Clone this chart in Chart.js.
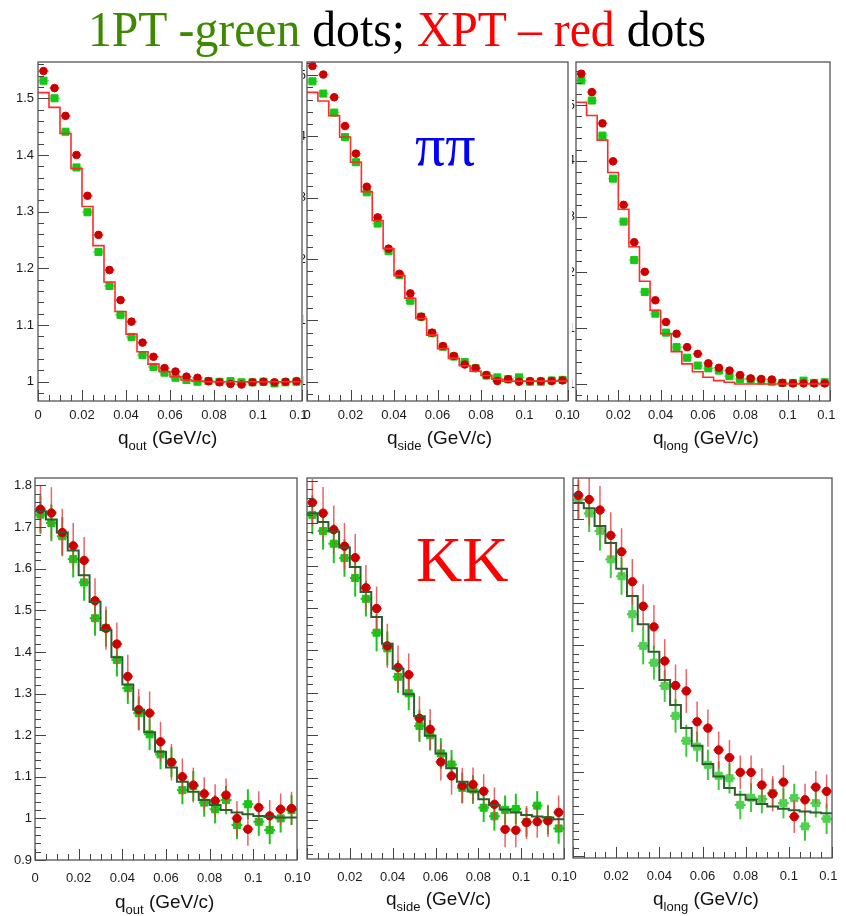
<!DOCTYPE html>
<html>
<head>
<meta charset="utf-8">
<script src="https://cdn.jsdelivr.net/npm/chart.js@4.4.0/dist/chart.umd.min.js"></script>
<style>
  html, body { margin: 0; padding: 0; background: #fff; }
  #page { position: relative; width: 846px; height: 916px; overflow: hidden; font-family: "Liberation Sans", Arial, sans-serif; }
  #page canvas { position: absolute; }
  .title { position: absolute; left: 88px; top: 4px; font: 51px/51px "Liberation Serif", "Times New Roman", serif; white-space: nowrap; transform: scaleX(0.935); transform-origin: 0 0; color: #000; }
  .axis { position: absolute; font-size: 19px; line-height: 19px; white-space: nowrap; color: #111; }
  .axis span { font-size: 13px; position: relative; top: 6px; }
  .tag { position: absolute; font-family: "Liberation Serif", "Times New Roman", serif; white-space: nowrap; }
</style>
</head>
<body>
<div id="page">
  <div class="title"><span style="color:#3d8a00">1PT -green</span> dots; <span style="color:#ff0000">XPT – red</span> dots</div>
</div>
<script>
// bin centres and edges in q (GeV/c), 24 bins of 5 MeV
const qBins = [0.0025, 0.0075, 0.0125, 0.0175, 0.0225, 0.0275, 0.0325, 0.0375, 0.0425, 0.0475, 0.0525, 0.0575,
               0.0625, 0.0675, 0.0725, 0.0775, 0.0825, 0.0875, 0.0925, 0.0975, 0.1025, 0.1075, 0.1125, 0.1175];
const binEdges = [0, 0.005, 0.01, 0.015, 0.02, 0.025, 0.03, 0.035, 0.04, 0.045, 0.05, 0.055, 0.06,
                  0.065, 0.07, 0.075, 0.08, 0.085, 0.09, 0.095, 0.1, 0.105, 0.11, 0.115, 0.12];

// pi-pi correlation functions
const piOut1pt = [1.531, 1.500, 1.441, 1.378, 1.299, 1.229, 1.169, 1.118, 1.079, 1.047, 1.026, 1.016,
                  1.007, 1.003, 1.000, 1.001, 1.000, 1.001, 0.999, 0.999, 1.000, 0.997, 0.999, 1.000];
const piOutXpt = [1.548, 1.518, 1.469, 1.400, 1.328, 1.259, 1.197, 1.144, 1.106, 1.069, 1.044, 1.024,
                  1.018, 1.009, 1.007, 1.001, 0.999, 0.996, 0.995, 0.999, 1.000, 0.999, 1.000, 1.001];
const piOutFit = [1.510, 1.484, 1.438, 1.376, 1.309, 1.240, 1.176, 1.124, 1.084, 1.053, 1.031, 1.018,
                  1.009, 1.003, 1.001, 1.000, 1.000, 1.000, 1.000, 1.000, 1.000, 1.000, 1.000, 1.000];

const piSide1pt = [1.490, 1.470, 1.439, 1.399, 1.358, 1.309, 1.258, 1.213, 1.174, 1.132, 1.106, 1.079,
                   1.057, 1.041, 1.032, 1.022, 1.010, 1.007, 1.004, 1.007, 1.000, 1.000, 1.002, 1.003];
const piSideXpt = [1.515, 1.501, 1.464, 1.417, 1.372, 1.318, 1.268, 1.217, 1.176, 1.144, 1.106, 1.080,
                   1.058, 1.042, 1.028, 1.022, 1.011, 1.001, 1.004, 1.000, 1.001, 1.001, 1.001, 1.002];
const piSideFit = [1.472, 1.458, 1.434, 1.399, 1.358, 1.310, 1.263, 1.217, 1.173, 1.136, 1.103, 1.076,
                   1.054, 1.038, 1.026, 1.017, 1.010, 1.004, 1.001, 1.001, 1.001, 1.001, 1.001, 1.001];

const piLong1pt = [1.544, 1.508, 1.445, 1.368, 1.291, 1.222, 1.165, 1.126, 1.092, 1.066, 1.047, 1.033,
                   1.028, 1.024, 1.014, 1.009, 1.008, 1.006, 1.004, 1.002, 1.002, 1.006, 1.002, 1.003];
const piLongXpt = [1.556, 1.523, 1.467, 1.399, 1.321, 1.254, 1.201, 1.150, 1.111, 1.090, 1.066, 1.054,
                   1.037, 1.029, 1.024, 1.016, 1.010, 1.009, 1.008, 1.002, 1.001, 1.001, 1.001, 1.001];
const piLongFit = [1.505, 1.481, 1.437, 1.379, 1.313, 1.246, 1.184, 1.132, 1.090, 1.058, 1.036, 1.022,
                   1.012, 1.006, 1.003, 1.000, 1.000, 1.000, 1.000, 1.000, 1.000, 1.000, 1.000, 1.000];

const piErr1pt = [0.003, 0.003, 0.003, 0.003, 0.003, 0.002, 0.002, 0.002, 0.002, 0.002, 0.002, 0.002,
                  0.002, 0.002, 0.002, 0.002, 0.002, 0.002, 0.002, 0.002, 0.002, 0.002, 0.002, 0.002];
const piErrXpt = [0.004, 0.004, 0.003, 0.003, 0.003, 0.003, 0.003, 0.002, 0.002, 0.002, 0.002, 0.002,
                  0.002, 0.002, 0.002, 0.002, 0.002, 0.002, 0.002, 0.002, 0.002, 0.002, 0.002, 0.002];

// K-K correlation functions
const kkOut1pt = [1.730, 1.710, 1.678, 1.623, 1.567, 1.481, 1.457, 1.381, 1.313, 1.253, 1.202, 1.154,
                  1.135, 1.068, 1.078, 1.038, 1.022, 1.044, 0.984, 1.034, 0.992, 0.972, 1.000, 1.020];
const kkOutXpt = [1.743, 1.734, 1.687, 1.655, 1.620, 1.523, 1.457, 1.419, 1.341, 1.261, 1.253, 1.184,
                  1.135, 1.100, 1.080, 1.059, 1.042, 1.056, 1.000, 0.974, 1.026, 1.006, 1.022, 1.024];
const kkOutFit = [1.738, 1.718, 1.687, 1.644, 1.584, 1.520, 1.453, 1.387, 1.322, 1.261, 1.207, 1.160,
                  1.122, 1.088, 1.064, 1.044, 1.032, 1.020, 1.014, 1.010, 1.006, 1.004, 1.002, 1.002];

const kkSide1pt = [1.720, 1.682, 1.652, 1.618, 1.571, 1.522, 1.442, 1.405, 1.338, 1.299, 1.222, 1.200,
                   1.157, 1.131, 1.076, 1.072, 1.029, 1.009, 1.024, 1.026, 0.995, 1.034, 1.000, 0.980];
const kkSideXpt = [1.749, 1.724, 1.685, 1.646, 1.619, 1.548, 1.499, 1.411, 1.360, 1.343, 1.240, 1.214,
                   1.137, 1.104, 1.081, 1.084, 1.068, 1.037, 0.978, 0.976, 0.994, 0.996, 0.998, 1.018];
const kkSideFit = [1.724, 1.703, 1.681, 1.643, 1.597, 1.538, 1.479, 1.416, 1.357, 1.297, 1.245, 1.199,
                   1.157, 1.122, 1.090, 1.067, 1.049, 1.035, 1.025, 1.018, 1.012, 1.008, 1.006, 1.002];

const kkLong1pt = [1.746, 1.713, 1.671, 1.604, 1.564, 1.474, 1.399, 1.359, 1.304, 1.233, 1.174, 1.160,
                   1.117, 1.091, 1.085, 1.022, 1.039, 1.036, 1.050, 1.026, 1.038, 0.971, 1.026, 0.989];
const kkLongXpt = [1.756, 1.746, 1.721, 1.661, 1.622, 1.551, 1.493, 1.444, 1.363, 1.305, 1.292, 1.219,
                   1.204, 1.152, 1.134, 1.099, 1.099, 1.069, 1.048, 1.076, 0.994, 1.034, 1.064, 1.054];
const kkLongFit = [1.738, 1.725, 1.683, 1.643, 1.582, 1.517, 1.450, 1.385, 1.318, 1.259, 1.204, 1.162,
                   1.119, 1.089, 1.062, 1.046, 1.034, 1.024, 1.018, 1.013, 1.009, 1.006, 1.004, 1.002];

const kkErr1pt = [0.046, 0.044, 0.046, 0.044, 0.044, 0.042, 0.044, 0.040, 0.038, 0.040, 0.038, 0.036,
                  0.036, 0.034, 0.036, 0.034, 0.034, 0.034, 0.034, 0.036, 0.034, 0.034, 0.034, 0.036];
const kkErrXpt = [0.056, 0.062, 0.057, 0.055, 0.056, 0.054, 0.052, 0.052, 0.052, 0.050, 0.052, 0.048,
                  0.044, 0.044, 0.042, 0.040, 0.040, 0.040, 0.042, 0.040, 0.039, 0.038, 0.038, 0.040];

// canvas placement: [left, top, width, height]; chart area comes from the axis sizes
const panels = [
  { box: [0, 50, 308, 379],   yW: 38, padTop: 12, padRight: 3, xH: 28, xPad: 7,  yPad: 4, yLabels: true,
    yMin: 0.966, yMax: 1.564, g: piOut1pt, r: piOutXpt, fit: piOutFit, eg: piErr1pt, er: piErrXpt, pi: true },
  { box: [301, 50, 273, 379], yW: 4,  padTop: 12, padRight: 3, xH: 28, xPad: 7,  yPad: 1, yLabels: true,
    yMin: 0.9685, yMax: 1.5215, g: piSide1pt, r: piSideXpt, fit: piSideFit, eg: piErr1pt, er: piErrXpt, pi: true },
  { box: [570, 50, 266, 379], yW: 4,  padTop: 12, padRight: 3, xH: 28, xPad: 7,  yPad: 1, yLabels: true,
    yMin: 0.9695, yMax: 1.577, g: piLong1pt, r: piLongXpt, fit: piLongFit, eg: piErr1pt, er: piErrXpt, pi: true },
  { box: [0, 470, 303, 446],  yW: 35, padTop: 8, padRight: 2, xH: 56, xPad: 11, yPad: 3, yLabels: true,
    yMin: 0.9, yMax: 1.818, g: kkOut1pt, r: kkOutXpt, fit: kkOutFit, eg: kkErr1pt, er: kkErrXpt },
  { box: [301, 470, 269, 446], yW: 2, padTop: 8, padRight: 2, xH: 57, xPad: 11, yPad: 3, yLabels: false,
    yMin: 0.908, yMax: 1.807, g: kkSide1pt, r: kkSideXpt, fit: kkSideFit, eg: kkErr1pt, er: kkErrXpt },
  { box: [567, 470, 271, 446], yW: 3, padTop: 8, padRight: 3, xH: 58, xPad: 11, yPad: 3, yLabels: false,
    yMin: 0.896, yMax: 1.797, g: kkLong1pt, r: kkLongXpt, fit: kkLongFit, eg: kkErr1pt, er: kkErrXpt, pale: true }
];

// ROOT-like error bars, drawn just under each marker set
const errorBars = {
  id: 'errorBars',
  beforeDatasetDraw(chart, args) {
    const ds = chart.data.datasets[args.index];
    if (!ds.errY) return;
    const { ctx, chartArea: a, scales: { x, y } } = chart;
    ctx.save();
    ctx.beginPath();
    ctx.rect(a.left, a.top, a.right - a.left, a.bottom - a.top);
    ctx.clip();
    ds.data.forEach((pt, i) => {
      const px = x.getPixelForValue(pt.x);
      const py = y.getPixelForValue(pt.y);
      ctx.lineWidth = ds.errWidth;
      ctx.strokeStyle = ds.errColorY;
      ctx.beginPath();
      ctx.moveTo(px, y.getPixelForValue(pt.y - ds.errY[i]));
      ctx.lineTo(px, y.getPixelForValue(pt.y + ds.errY[i]));
      ctx.stroke();
      ctx.strokeStyle = ds.errColorX;
      ctx.beginPath();
      ctx.moveTo(x.getPixelForValue(pt.x - 0.0025), py);
      ctx.lineTo(x.getPixelForValue(pt.x + 0.0025), py);
      ctx.stroke();
    });
    ctx.restore();
  }
};

// frame plus tick marks pointing into the pad
const frameTicks = {
  id: 'frameTicks',
  afterDraw(chart) {
    const { ctx, chartArea: a, scales: { x, y } } = chart;
    ctx.save();
    ctx.strokeStyle = '#444';
    ctx.lineWidth = 1;
    ctx.beginPath();
    for (let i = 0; i <= 24; i++) {
      const px = Math.round(x.getPixelForValue(i * 0.005)) + 0.5;
      const len = i % 4 === 0 ? 11 : 6;
      ctx.moveTo(px, a.bottom);
      ctx.lineTo(px, a.bottom - len);
    }
    for (let k = Math.ceil(y.min / 0.02 - 1e-6); k * 0.02 <= y.max + 1e-6; k++) {
      const py = Math.round(y.getPixelForValue(k * 0.02)) + 0.5;
      const len = k % 5 === 0 ? 11 : 6;
      ctx.moveTo(a.left, py);
      ctx.lineTo(a.left + len, py);
    }
    ctx.stroke();
    ctx.strokeStyle = '#555';
    ctx.lineWidth = 1.3;
    ctx.strokeRect(a.left, a.top, a.right - a.left, a.bottom - a.top);
    ctx.restore();
  }
};

// ROOT style labels: 1, 1.1, 0.02, 0.1 ...
const shortLabel = v => String(Math.round(v * 1000) / 1000);

function histPoints(levels) {
  const pts = levels.map((v, i) => ({ x: binEdges[i], y: v }));
  pts.push({ x: binEdges[levels.length], y: levels[levels.length - 1] });
  return pts;
}
function markers(vals) {
  return vals.map((v, i) => ({ x: qBins[i], y: v }));
}

Chart.defaults.font.family = '"Liberation Sans", Arial, sans-serif';
Chart.defaults.font.size = 13;
Chart.defaults.color = '#1a1a1a';

const page = document.getElementById('page');

panels.forEach(p => {
  const cv = document.createElement('canvas');
  cv.width = p.box[2];
  cv.height = p.box[3];
  cv.style.left = p.box[0] + 'px';
  cv.style.top = p.box[1] + 'px';
  cv.style.width = p.box[2] + 'px';
  cv.style.height = p.box[3] + 'px';
  page.appendChild(cv);

  const greenFill = p.pale ? '#4fd24f' : '#14c814';
  const greenBar = p.pale ? '#3ccb3c' : '#1ec41e';

  new Chart(cv, {
    type: 'scatter',
    data: {
      datasets: [
        {
          data: histPoints(p.fit),
          showLine: true,
          stepped: 'before',
          borderColor: p.pi ? '#ff2b2b' : '#2f5d2f',
          borderWidth: p.pi ? 1.6 : 2,
          pointRadius: 0,
          fill: false
        },
        {
          data: markers(p.r),
          pointStyle: 'circle',
          pointRadius: p.pi ? 3.8 : 4.2,
          backgroundColor: '#cc0000',
          borderColor: '#cc0000',
          borderWidth: 1,
          clip: false,
          errY: p.er,
          errWidth: 1.5,
          errColorY: 'rgba(230, 60, 60, 0.8)',
          errColorX: p.pi ? 'rgba(235, 100, 100, 0.6)' : 'rgba(230, 60, 60, 0.8)'
        },
        {
          data: markers(p.g),
          pointStyle: 'rect',
          pointRadius: 5,
          backgroundColor: greenFill,
          borderColor: greenFill,
          borderWidth: 1,
          clip: false,
          errY: p.eg,
          errWidth: p.pi ? 1.5 : 2,
          errColorY: greenBar,
          errColorX: p.pi ? 'rgba(60, 200, 60, 0.6)' : greenBar
        }
      ]
    },
    options: {
      responsive: false,
      animation: false,
      events: [],
      layout: { padding: { top: p.padTop, right: p.padRight, left: 0, bottom: 0 } },
      plugins: { legend: { display: false }, tooltip: { enabled: false } },
      scales: {
        x: {
          type: 'linear',
          min: 0,
          max: 0.12,
          grid: { display: false, drawTicks: false },
          border: { display: false },
          ticks: { stepSize: 0.02, autoSkip: false, maxRotation: 0, padding: p.xPad, callback: shortLabel },
          afterFit: s => { s.height = p.xH; s.paddingLeft = 0; s.paddingRight = 0; }
        },
        y: {
          type: 'linear',
          min: p.yMin,
          max: p.yMax,
          grid: { display: false, drawTicks: false },
          border: { display: false },
          ticks: { stepSize: 0.1, includeBounds: false, display: p.yLabels, padding: p.yPad, callback: shortLabel },
          afterFit: s => { s.width = p.yW; s.paddingTop = 0; s.paddingBottom = 0; }
        }
      }
    },
    plugins: [errorBars, frameTicks]
  });
});

// axis titles with subscripts
const axisTitles = [
  { sub: 'out',  left: 118, top: 428 },
  { sub: 'side', left: 387, top: 428 },
  { sub: 'long', left: 653, top: 428 },
  { sub: 'out',  left: 115, top: 892 },
  { sub: 'side', left: 386, top: 889 },
  { sub: 'long', left: 653, top: 889 }
];
axisTitles.forEach(t => {
  const d = document.createElement('div');
  d.className = 'axis';
  d.style.left = t.left + 'px';
  d.style.top = t.top + 'px';
  d.innerHTML = 'q<span>' + t.sub + '</span> (GeV/c)';
  page.appendChild(d);
});

const pipi = document.createElement('div');
pipi.className = 'tag';
pipi.style.cssText = 'left:415px;top:115px;font-size:60px;line-height:60px;color:#0000ff;';
pipi.textContent = 'ππ';
page.appendChild(pipi);

const kk = document.createElement('div');
kk.className = 'tag';
kk.style.cssText = 'left:416px;top:528px;font-size:64px;line-height:64px;color:#ff0000;';
kk.textContent = 'KK';
page.appendChild(kk);
</script>
</body>
</html>
